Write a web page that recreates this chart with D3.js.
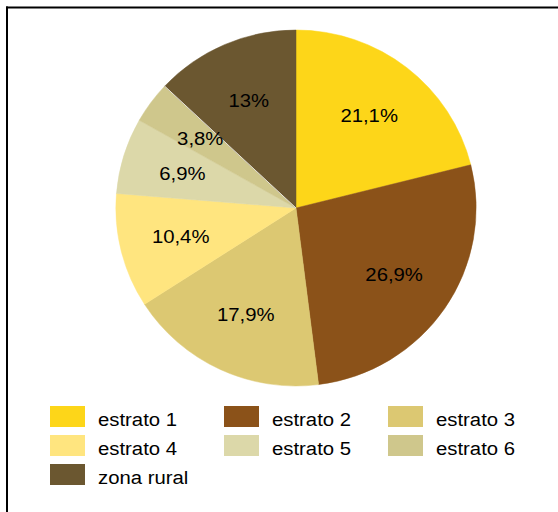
<!DOCTYPE html>
<html>
<head>
<meta charset="utf-8">
<script src="https://cdn.jsdelivr.net/npm/d3@7"></script>
<style>
  body { margin: 0; background: #fff; }
  svg { display: block; font-family: "Liberation Sans", Arial, sans-serif; }
</style>
</head>
<body>
<svg id="chart" width="558" height="512"></svg>
<script>
"use strict";

// data
const categories = ["estrato 1", "estrato 2", "estrato 3", "estrato 4", "estrato 5", "estrato 6", "zona rural"];
const values = [21.1, 26.9, 17.9, 10.4, 6.9, 3.8, 13];
const labels = ["21,1%", "26,9%", "17,9%", "10,4%", "6,9%", "3,8%", "13%"];
const colors = ["#fdd619", "#8b5219", "#dcc872", "#ffe57f", "#dcd8a9", "#cfc78c", "#6b5730"];

function translate(x, y) {
  return "translate(" + x + "," + y + ")";
}

let width = 558,
  height = 512;
let svg = d3.select("#chart");
let stretch = " scale(1.07,1)"; // text in the picture is a bit wide

// frame (only top and left edges are visible in the picture)
svg.append("line")
  .attr("x1", 6).attr("x2", width)
  .attr("y1", 7.5).attr("y2", 7.5)
  .attr("stroke", "#000").attr("stroke-width", 2);
svg.append("line")
  .attr("x1", 7).attr("x2", 7)
  .attr("y1", 6.5).attr("y2", height)
  .attr("stroke", "#000").attr("stroke-width", 2);

let cx = 296,
  cy = 208,
  r = 178;

let color = d3.scaleOrdinal().domain(categories).range(colors);

let pie = d3.pie().sort(null).value((d) => d.value);
let arcs = pie(categories.map((c, i) => ({ name: c, value: values[i], label: labels[i] })));

let arc = d3.arc().innerRadius(0).outerRadius(r);
let labelArc = d3.arc().innerRadius(r * 0.66).outerRadius(r * 0.66);

// the pie is a touch wider than tall
let g = svg.append("g").attr("transform", translate(cx, cy) + " scale(1.012,1)");

g.selectAll("path")
  .data(arcs)
  .enter()
  .append("path")
  .attr("d", arc)
  .attr("fill", (d) => color(d.data.name))
  .attr("stroke", (d) => color(d.data.name))
  .attr("stroke-width", 0.5);

// thin white gap between estrato 6 and zona rural
let rural = arcs[arcs.length - 1];
g.append("line")
  .attr("x1", 0).attr("y1", 0)
  .attr("x2", r * Math.sin(rural.startAngle))
  .attr("y2", -r * Math.cos(rural.startAngle))
  .attr("stroke", "#fff").attr("stroke-width", 0.8);

svg.append("g")
  .attr("transform", translate(cx, cy))
  .selectAll("text")
  .data(arcs)
  .enter()
  .append("text")
  .attr("transform", (d) => {
    let p = labelArc.centroid(d);
    return translate(p[0] * 1.012, p[1]) + stretch;
  })
  .attr("text-anchor", "middle")
  .attr("dy", "0.35em")
  .attr("font-size", 19)
  .attr("fill", "#000")
  .text((d) => d.data.label);

// legend, three per row
let colX = d3.scaleOrdinal().domain([0, 1, 2]).range([50, 224, 388]);
let rowY = (i) => 406 + Math.floor(i / 3) * 29;

let legend = svg.append("g")
  .selectAll("g")
  .data(categories)
  .enter()
  .append("g")
  .attr("transform", (d, i) => translate(colX(i % 3), rowY(i)));

legend.append("rect")
  .attr("width", 35)
  .attr("height", 21)
  .attr("fill", (d) => color(d));

legend.append("text")
  .attr("transform", translate(48, 20) + stretch)
  .attr("font-size", 19)
  .attr("fill", "#000")
  .text((d) => d);
</script>
</body>
</html>
